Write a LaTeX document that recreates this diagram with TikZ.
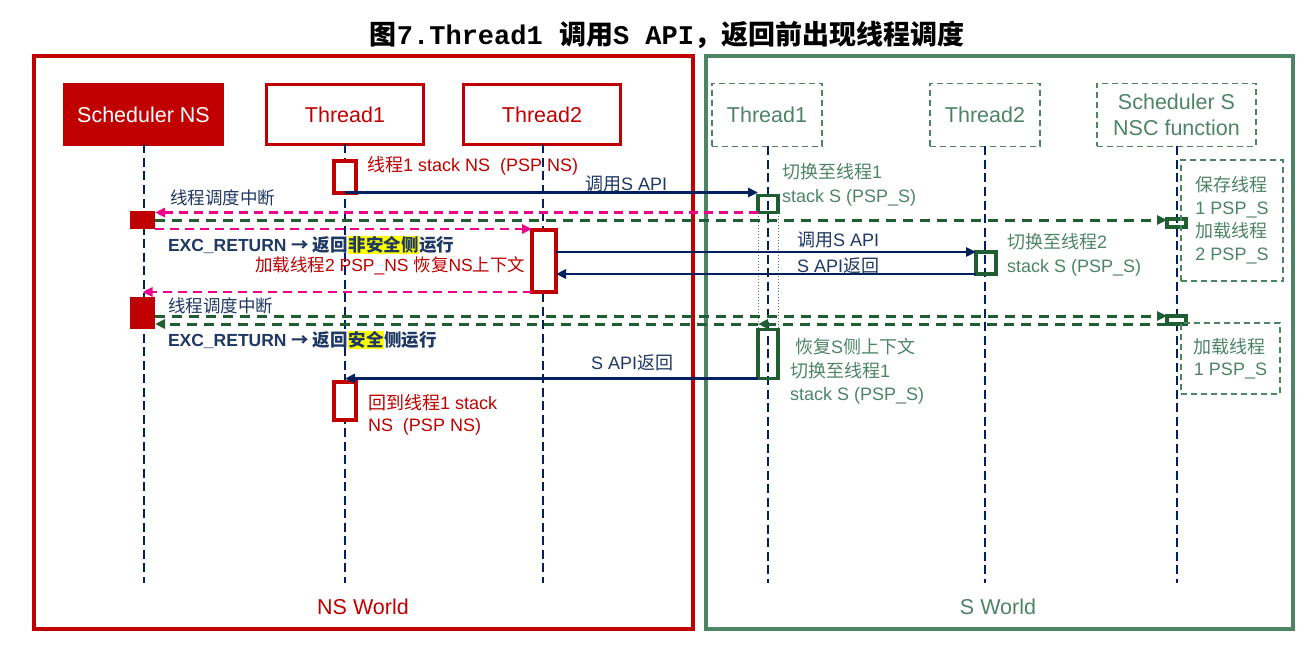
\documentclass[tikz,border=0pt]{standalone}
\usepackage{fontspec}
\setmainfont{Liberation Sans}
\newfontfamily\cjk{Noto Sans CJK SC}
\newfontfamily\monof{Liberation Mono}
\usetikzlibrary{arrows.meta}
\newcommand\zh[1]{{\cjk #1}}
\newcommand\hlt[1]{{\setlength\fboxsep{0.5pt}\colorbox{hl}{#1}}}
\definecolor{nsred}{HTML}{C00000}
\definecolor{sgreen}{HTML}{4E8466}
\definecolor{dgreen}{HTML}{1E5E32}
\definecolor{navy}{HTML}{002060}
\definecolor{lnavy}{HTML}{1F3864}
\definecolor{pinkc}{HTML}{EC008C}
\definecolor{hl}{HTML}{FFFF00}
\begin{document}
\begin{tikzpicture}[x=1pt,y=-1pt,
  every node/.style={inner sep=0pt, outer sep=0pt},
  worldbox/.style={draw=#1, line width=3.5, minimum height=573},
  hdrns/.style={draw=nsred, line width=3.5, fill=white, text=nsred, minimum width=157, minimum height=60, font=\fontsize{21.5}{26}\selectfont},
  hdrs/.style={draw=sgreen, dash pattern=on 6 off 4, line width=1.3, text=sgreen, minimum height=63, font=\fontsize{21.5}{25.5}\selectfont, align=center},
  lifel/.style={navy, line width=2, dash pattern=on 9 off 4.5},
  actr/.style={draw=nsred, line width=4, fill=white},
  actg/.style={draw=dgreen, line width=3.5},
  msgarrow/.style={navy, line width=2.5, -{Triangle[length=10,width=9]}},
  pkarrow/.style={pinkc, line width=2.5, dash pattern=on 9 off 6, -{Triangle[length=10,width=9]}},
  gdarrow/.style={dgreen, line width=3, dash pattern=on 10 off 7, -{Triangle[length=10,width=9]}},
  lbl/.style={anchor=west, font=\fontsize{18}{24}\selectfont},
  nvlbl/.style={lbl, text=lnavy},
  grlbl/.style={lbl, text=sgreen, align=left},
  rdlbl/.style={lbl, text=nsred, align=left},
]
\useasboundingbox[fill=white] (0,0) rectangle (1313,655);

% title
\node (title) at (667,35) {\fontsize{27}{30}\selectfont\bfseries\zh{图}{\monof 7.Thread1 }\zh{调用}{\monof S API}\zh{，返回前出现线程调度}};

% worlds
\node[worldbox=nsred, minimum width=659] (nsw) at (363.5,342.5) {};
\node[worldbox=sgreen, minimum width=587] (sw) at (999.5,342.5) {};
\node[text=nsred, font=\fontsize{21.5}{26}\selectfont] (nswl) at (363,607) {NS World};
\node[text=sgreen, font=\fontsize{21.5}{26}\selectfont] (swl) at (998,607) {S World};

% headers
\node[hdrns, fill=nsred, text=white] (schNS) at (143.5,114.5) {Scheduler NS};
\node[hdrns] (t1NS) at (345,114.5) {Thread1};
\node[hdrns] (t2NS) at (542,114.5) {Thread2};
\node[hdrs, minimum width=110] (t1S) at (767,115) {Thread1};
\node[hdrs, minimum width=110] (t2S) at (985,115) {Thread2};
\node[hdrs, minimum width=159] (schS) at (1176.5,115) {Scheduler S\\NSC function};

% lifelines
\coordinate (bot) at (0,583);
\draw[lifel] (schNS.south) -- (schNS.south |- bot);
\draw[lifel] (t1NS.south) -- (t1NS.south |- bot);
\draw[lifel] ([xshift=1]t2NS.south) -- ([xshift=1]t2NS.south |- bot);
\draw[lifel] ([xshift=1]t1S.south) -- ([xshift=1]t1S.south |- bot);
\draw[lifel] (t2S.south) -- (t2S.south |- bot);
\draw[lifel] (schS.south) -- (schS.south |- bot);

% activations
\node[actr, minimum width=22, minimum height=31] (a1) at (345,177) {};
\node[actg, minimum width=20, minimum height=17] (s1a) at (768,204) {};
\node[fill=nsred, minimum width=25, minimum height=18] (ns1) at (142.5,220) {};
\node[actg, minimum width=19, minimum height=8] (ss1) at (1176.5,223) {};
\node[actr, minimum width=24, minimum height=62] (a2) at (544,261) {};
\node[actg, minimum width=20, minimum height=22] (s2a) at (986,263) {};
\node[fill=nsred, minimum width=25, minimum height=32] (ns2) at (142.5,313) {};
\node[actg, minimum width=19, minimum height=8] (ss2) at (1176.5,320) {};
\node[actg, minimum width=20, minimum height=49] (s1b) at (768,354) {};
\node[actr, minimum width=22, minimum height=38] (a3) at (345,401) {};

% dotted continuation of Thread1 S activation
\draw[sgreen, line width=1, dotted] (s1a.south west) -- (s1b.north west);
\draw[sgreen, line width=1, dotted] (s1a.south east) -- (s1b.north east);

% scheduler S notes
\node[draw=sgreen, dash pattern=on 6 off 4, line width=1.3, minimum width=102, minimum height=121, text=sgreen, align=left, font=\fontsize{18}{23}\selectfont] (note1) at (1232,220.5) {\zh{保存线程}\\1 PSP\_S\\\zh{加载线程}\\2 PSP\_S};
\node[draw=sgreen, dash pattern=on 6 off 4, line width=1.3, minimum width=99, minimum height=71, text=sgreen, align=left, font=\fontsize{18}{22}\selectfont] (note2) at (1230.5,358.5) {\zh{加载线程}\\1 PSP\_S};

% messages
\draw[msgarrow] (a1.south) -- (a1.south -| s1a.west);
\draw[pkarrow] (s1a.south west) -- (s1a.south west -| ns1.east);
\draw[gdarrow] (ns1.east) -- (ns1.east -| ss1.west);
\draw[pkarrow] (ns1.south east) -- (ns1.south east -| a2.west);
\draw[msgarrow] (a2.east |- s2a.north) -- (s2a.north west);
\draw[msgarrow] (s2a.south west) -- (a2.east |- s2a.south);
\draw[pkarrow] (a2.south west) -- (a2.south west -| ns2.north);
\draw[gdarrow] (ns2.east |- ss2.north) -- (ss2.north west);
\draw[gdarrow] (ss2.south west) -- (s1b.north west |- ss2.south);
\draw[gdarrow] (s1b.north west |- ss2.south) -- (ns2.east |- ss2.south);
\draw[msgarrow] (s1b.south west) -- (s1b.south west -| a3.north);

% labels
\node[rdlbl] (l1) at (367,166) {\zh{线程}1 stack NS\ \ (PSP NS)};
\node[nvlbl] (l2) at (585,184) {\zh{调用}S API};
\node[grlbl] (l3) at (782,184.5) {\zh{切换至线程}1\\stack S (PSP\_S)};
\node[nvlbl, font=\fontsize{17.5}{22}\selectfont] (l4) at (170,198) {\zh{线程调度中断}};
\node[nvlbl, font=\fontsize{17.5}{22}\selectfont\bfseries] (l5) at (168,245) {EXC\_RETURN \zh{→ 返回\hlt{非安全侧}运行}};
\node[rdlbl, font=\fontsize{17.5}{22}\selectfont] (l6) at (255,266) {\zh{加载线程}2 PSP\_NS \zh{恢复}NS\zh{上下文}};
\node[nvlbl] (l7) at (797,240) {\zh{调用}S API};
\node[nvlbl] (l8) at (797,266) {S API\zh{返回}};
\node[grlbl] (l9) at (1007,255) {\zh{切换至线程}2\\stack S (PSP\_S)};
\node[nvlbl, font=\fontsize{17.5}{22}\selectfont] (l10) at (168,306) {\zh{线程调度中断}};
\node[nvlbl, font=\fontsize{17.5}{22}\selectfont\bfseries] (l11) at (168,340) {EXC\_RETURN \zh{→ 返回\hlt{安全}侧运行}};
\node[nvlbl] (l12) at (591,363) {S API\zh{返回}};
\node[grlbl] (l13) at (795,347) {\zh{恢复}S\zh{侧上下文}};
\node[grlbl, font=\fontsize{18}{23}\selectfont] (l14) at (790,383.5) {\zh{切换至线程}1\\stack S (PSP\_S)};
\node[rdlbl, font=\fontsize{18}{22}\selectfont] (l15) at (368,415) {\zh{回到线程}1 stack\\NS\ \ (PSP NS)};
\end{tikzpicture}
\end{document}
